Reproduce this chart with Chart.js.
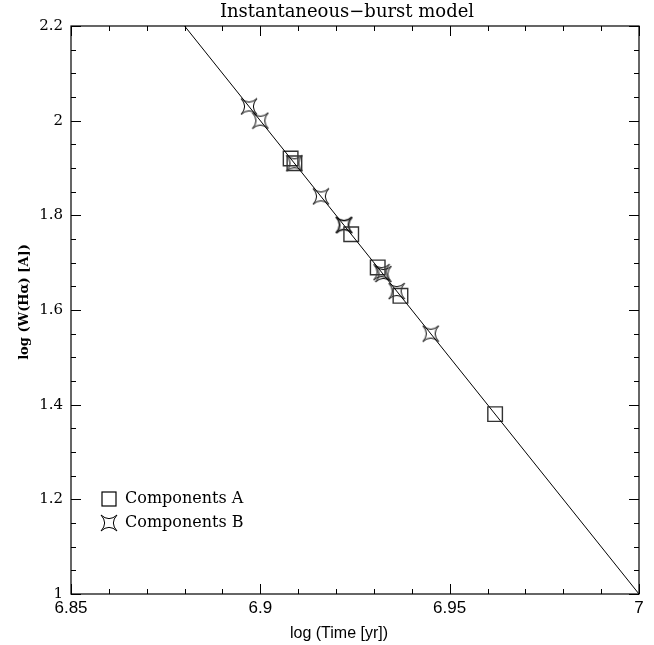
<!DOCTYPE html>
<html>
<head>
<meta charset="utf-8">
<script src="https://cdn.jsdelivr.net/npm/chart.js@4.4.1/dist/chart.umd.min.js"></script>
<style>
  html, body { margin: 0; padding: 0; background: #fff; }
  #wrap { width: 654px; height: 645px; }
</style>
</head>
<body>
<div id="wrap"><canvas id="chart" width="654" height="645"></canvas></div>
<script>
// model line
const lineX = [6.88, 7.0];
const lineY = [2.2, 1.0];

// Components A (squares)
const compAX = [6.908, 6.909, 6.924, 6.931, 6.937, 6.962];
const compAY = [1.92, 1.91, 1.76, 1.69, 1.63, 1.38];

// Components B (stars)
const compBX = [6.897, 6.900, 6.909, 6.916, 6.922, 6.9222, 6.932, 6.9325, 6.936, 6.945];
const compBY = [2.03, 2.00, 1.91, 1.84, 1.78, 1.779, 1.68, 1.676, 1.64, 1.55];

// axis ticks
const xMajor = [6.85, 6.9, 6.95, 7];
const xLabels = ['6.85', '6.9', '6.95', '7'];
const yMajor = [1, 1.2, 1.4, 1.6, 1.8, 2, 2.2];
const yLabels = ['1', '1.2', '1.4', '1.6', '1.8', '2', '2.2'];

const titleText = 'Instantaneous\u2212burst model';
const xTitle = 'log (Time [yr])';
const yTitle = 'log (W(H\u03b1) [A])';
const legendNames = ['Components A', 'Components B'];

function pts(xs, ys) {
    return xs.map((x, i) => ({x: x, y: ys[i]}));
}

// four pointed concave star marker
function makeStar(size) {
    const c = document.createElement('canvas');
    c.width = size; c.height = size;
    const g = c.getContext('2d');
    const m = size / 2, r = size / 2 - 1;
    g.strokeStyle = '#000';
    g.lineWidth = 1;
    g.beginPath();
    const tips = [[-r, -r], [r, -r], [r, r], [-r, r]];
    g.moveTo(m + tips[0][0], m + tips[0][1]);
    for (let i = 0; i < 4; i++) {
        const a = tips[i], b = tips[(i + 1) % 4];
        const mx = (a[0] + b[0]) / 2, my = (a[1] + b[1]) / 2;
        g.quadraticCurveTo(m + mx * 0.09, m + my * 0.09, m + b[0], m + b[1]);
    }
    g.closePath();
    g.stroke();
    return c;
}
const starImg = makeStar(18);

const frameAndText = {
    id: 'frameAndText',
    afterDraw(chart) {
        const ctx = chart.ctx;
        const a = chart.chartArea;
        const xs = chart.scales.x, ys = chart.scales.y;
        ctx.save();
        ctx.strokeStyle = '#000';
        ctx.lineWidth = 1.2;
        ctx.strokeRect(a.left, a.top, a.right - a.left, a.bottom - a.top);

        // inside ticks
        ctx.lineWidth = 1;
        ctx.beginPath();
        for (let v = 6.85; v <= 7.0001; v += 0.01) {
            const major = xMajor.some(t => Math.abs(t - v) < 1e-6);
            const len = major ? 10 : 5;
            const px = Math.round(xs.getPixelForValue(v)) + 0.5;
            ctx.moveTo(px, a.bottom); ctx.lineTo(px, a.bottom - len);
            ctx.moveTo(px, a.top); ctx.lineTo(px, a.top + len);
        }
        for (let v = 1; v <= 2.2001; v += 0.05) {
            const major = yMajor.some(t => Math.abs(t - v) < 1e-6);
            const len = major ? 10 : 5;
            const py = Math.round(ys.getPixelForValue(v)) + 0.5;
            ctx.moveTo(a.left, py); ctx.lineTo(a.left + len, py);
            ctx.moveTo(a.right, py); ctx.lineTo(a.right - len, py);
        }
        ctx.stroke();

        ctx.fillStyle = '#000';
        // x tick labels
        ctx.font = '17px "Liberation Sans", Arial, sans-serif';
        ctx.textAlign = 'center';
        ctx.textBaseline = 'top';
        xMajor.forEach((v, i) => {
            ctx.fillText(xLabels[i], xs.getPixelForValue(v), a.bottom + 6);
        });
        // y tick labels
        ctx.font = '15px "DejaVu Serif", serif';
        ctx.textAlign = 'right';
        ctx.textBaseline = 'middle';
        yMajor.forEach((v, i) => {
            ctx.fillText(yLabels[i], a.left - 8, ys.getPixelForValue(v));
        });

        // title
        ctx.font = '18px "DejaVu Serif", serif';
        ctx.textAlign = 'center';
        ctx.textBaseline = 'alphabetic';
        ctx.fillText(titleText, 347, 17);

        // x title
        ctx.font = '16px "Liberation Sans Narrow", "Liberation Sans", sans-serif';
        ctx.fillText(xTitle, 339, 638);

        // y title
        ctx.save();
        ctx.translate(28, 302);
        ctx.rotate(-Math.PI / 2);
        ctx.font = 'bold 13px "DejaVu Serif", serif';
        ctx.fillText(yTitle, 0, 0);
        ctx.restore();

        // legend
        ctx.lineWidth = 1.2;
        ctx.strokeRect(102, 492, 14, 14);
        ctx.drawImage(starImg, 109 - 9, 523 - 9);
        ctx.font = '16px "DejaVu Serif", serif';
        ctx.textAlign = 'left';
        ctx.textBaseline = 'middle';
        ctx.fillText(legendNames[0], 125, 499);
        ctx.fillText(legendNames[1], 125, 523);
        ctx.restore();
    }
};

new Chart(document.getElementById('chart').getContext('2d'), {
    type: 'scatter',
    data: {
        datasets: [
            {
                type: 'line',
                data: pts(lineX, lineY),
                borderColor: '#000',
                borderWidth: 1,
                pointRadius: 0,
                fill: false
            },
            {
                data: pts(compAX, compAY),
                pointStyle: 'rect',
                pointRadius: 10.3,
                borderColor: '#333',
                borderWidth: 1.4,
                backgroundColor: 'rgba(0,0,0,0)'
            },
            {
                data: pts(compBX, compBY),
                pointStyle: starImg,
                pointRadius: 9
            }
        ]
    },
    options: {
        responsive: false,
        animation: false,
        layout: { padding: { left: 71, top: 26, right: 15, bottom: 51 } },
        plugins: {
            legend: { display: false },
            tooltip: { enabled: false }
        },
        scales: {
            x: { type: 'linear', min: 6.85, max: 7.0, display: false },
            y: { type: 'linear', min: 1, max: 2.2, display: false }
        }
    },
    plugins: [frameAndText]
});
</script>
</body>
</html>
